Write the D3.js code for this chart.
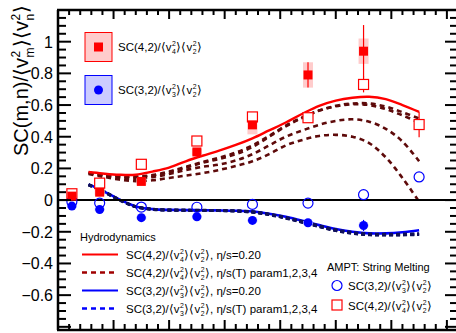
<!DOCTYPE html>
<html><head><meta charset="utf-8">
<script src="https://cdn.jsdelivr.net/npm/d3@7"></script>
<style>html,body{margin:0;padding:0;background:#fff;}svg{display:block;font-family:"Liberation Sans",Arial,Helvetica,sans-serif;}</style>
</head><body>
<svg id="c" width="456" height="333"></svg>
<script>
// ---------------- data ----------------
const cent = [2.5, 7.5, 15, 25, 35, 45, 55, 65];
const alice42 = [0.025, 0.05, 0.118, 0.304, 0.475, 0.79, 0.94];
const alice42Stat = [0.01, 0.01, 0.01, 0.015, 0.02, 0.08, 0.165];
const alice42Sys = [0.02, 0.02, 0.02, 0.02, 0.06, 0.08, 0.08];
const alice32 = [-0.038, -0.059, -0.111, -0.105, -0.128, -0.143, -0.16];
const alice32Stat = [0.005, 0.005, 0.006, 0.006, 0.008, 0.012, 0.035];
const ampt42 = [0.04, 0.107, 0.226, 0.373, 0.525, 0.52, 0.73, 0.477];
const ampt42Err = [0.01, 0.01, 0.01, 0.01, 0.015, 0.02, 0.05, 0.08];
const ampt32 = [-0.01, -0.019, -0.044, -0.045, -0.027, -0.019, 0.034, 0.146];

const hydroCent = [5.5, 8, 11, 14, 17, 20, 23, 26, 29, 32, 35, 38, 41, 44, 47, 50, 53, 56, 59, 62, 65];
const hydro42Eta020 = [0.177, 0.168, 0.160, 0.160, 0.180, 0.205, 0.245, 0.280, 0.312, 0.348, 0.39, 0.44, 0.49, 0.545, 0.595, 0.628, 0.646, 0.652, 0.637, 0.60, 0.557];
const hydro42Param1 = [0.172, 0.160, 0.150, 0.145, 0.155, 0.175, 0.205, 0.235, 0.260, 0.290, 0.335, 0.40, 0.465, 0.52, 0.565, 0.595, 0.61, 0.61, 0.59, 0.555, 0.515];
const hydro42Param2 = [0.170, 0.155, 0.140, 0.135, 0.145, 0.165, 0.190, 0.210, 0.225, 0.250, 0.290, 0.345, 0.40, 0.44, 0.475, 0.50, 0.51, 0.495, 0.45, 0.37, 0.245];
const hydro42Param3 = [0.165, 0.148, 0.130, 0.120, 0.125, 0.140, 0.155, 0.170, 0.190, 0.215, 0.245, 0.29, 0.345, 0.38, 0.405, 0.412, 0.40, 0.36, 0.27, 0.14, -0.01];
const hydro42Param4 = [0.174, 0.162, 0.152, 0.148, 0.158, 0.180, 0.210, 0.240, 0.268, 0.300, 0.345, 0.405, 0.47, 0.522, 0.565, 0.592, 0.605, 0.60, 0.575, 0.535, 0.49];
const hydro32Eta020 = [0.099, 0.060, 0.005, -0.040, -0.057, -0.062, -0.063, -0.064, -0.065, -0.067, -0.072, -0.086, -0.105, -0.13, -0.158, -0.183, -0.2, -0.21, -0.21, -0.203, -0.19];
const hydro32Param1 = [0.097, 0.058, 0.003, -0.042, -0.058, -0.063, -0.064, -0.065, -0.066, -0.068, -0.075, -0.09, -0.112, -0.138, -0.165, -0.19, -0.207, -0.216, -0.218, -0.217, -0.215];
const hydro32Param2 = [0.095, 0.056, 0.001, -0.043, -0.059, -0.064, -0.065, -0.066, -0.067, -0.070, -0.077, -0.092, -0.115, -0.141, -0.168, -0.193, -0.21, -0.219, -0.221, -0.22, -0.218];
const hydro32Param3 = [0.098, 0.059, 0.004, -0.041, -0.057, -0.062, -0.063, -0.064, -0.065, -0.067, -0.073, -0.088, -0.109, -0.135, -0.162, -0.187, -0.204, -0.213, -0.215, -0.214, -0.212];
const hydro32Param4 = [0.096, 0.057, 0.002, -0.042, -0.058, -0.063, -0.064, -0.065, -0.066, -0.069, -0.076, -0.091, -0.113, -0.14, -0.167, -0.192, -0.209, -0.218, -0.22, -0.219, -0.217];

const yTickLabels = ["\u22120.6", "\u22120.4", "\u22120.2", "0", "0.2", "0.4", "0.6", "0.8", "1"];
const yTickValues = [-0.6, -0.4, -0.2, 0, 0.2, 0.4, 0.6, 0.8, 1.0];

// ---------------- setup ----------------
const svg = d3.select("#c");
const x = d3.scaleLinear().domain([0, 72]).range([58, 458]);
const y = d3.scaleLinear().domain([-0.82, 1.2]).range([330, 10]);
const RED = "#ff0000", BLUE = "#0000ff";
const DRED = "#5e0a0a", DBLUE = "#10105a";

// rich text helper: parts are strings or {sup, sub}
function rich(g, x0, y0, parts, fs, color) {
  let cx = x0;
  parts.forEach(p => {
    if (typeof p === "string") {
      const t = g.append("text").attr("x", cx).attr("y", y0).attr("font-size", fs).attr("fill", color).text(p);
      cx += t.node().getComputedTextLength();
    } else {
      const sfs = fs * 0.6;
      const a = g.append("text").attr("x", cx + 0.5).attr("y", y0 - fs * 0.42).attr("font-size", sfs).attr("fill", color).text(p.sup);
      const b = g.append("text").attr("x", cx + 0.5).attr("y", y0 + fs * 0.28).attr("font-size", sfs).attr("fill", color).text(p.sub);
      cx += Math.max(a.node().getComputedTextLength(), b.node().getComputedTextLength()) + 1;
    }
  });
  return cx - x0;
}
const lab42 = ["SC(4,2)/\u27E8v", {sup: "2", sub: "4"}, "\u27E9\u27E8v", {sup: "2", sub: "2"}, "\u27E9"];
const lab32 = ["SC(3,2)/\u27E8v", {sup: "2", sub: "3"}, "\u27E9\u27E8v", {sup: "2", sub: "2"}, "\u27E9"];

// ---------------- hydro curves ----------------
const line = d3.line().x(d => x(d[0])).y(d => y(d[1])).curve(d3.curveCatmullRom.alpha(0.5));
const pts = arr => hydroCent.map((c, i) => [c, arr[i]]);
const gC = svg.append("g");
[hydro42Param3, hydro42Param2, hydro42Param4, hydro42Param1].forEach(a => {
  gC.append("path").attr("d", line(pts(a))).attr("fill", "none").attr("stroke", DRED)
    .attr("stroke-width", 2.6).attr("stroke-dasharray", "5,4");
});
gC.append("path").attr("d", line(pts(hydro42Eta020))).attr("fill", "none").attr("stroke", RED).attr("stroke-width", 2.4);
gC.append("path").attr("d", line(pts(hydro32Eta020))).attr("fill", "none").attr("stroke", BLUE).attr("stroke-width", 2.6);
[hydro32Param1, hydro32Param2, hydro32Param3, hydro32Param4].forEach(a => {
  gC.append("path").attr("d", line(pts(a))).attr("fill", "none").attr("stroke", DBLUE)
    .attr("stroke-width", 2.8).attr("stroke-dasharray", "4,3");
});

// zero line
svg.append("line").attr("x1", x(0)).attr("x2", 458).attr("y1", y(0)).attr("y2", y(0)).attr("stroke", "#000").attr("stroke-width", 2);

// ---------------- data points ----------------
const gD = svg.append("g");
alice42.forEach((v, i) => {
  gD.append("rect").attr("x", x(cent[i]) - 5).attr("width", 10)
    .attr("y", y(v + alice42Sys[i])).attr("height", y(v - alice42Sys[i]) - y(v + alice42Sys[i]))
    .attr("fill", "#ffcccc");
});
alice32.forEach((v, i) => {
  gD.append("rect").attr("x", x(cent[i]) - 5).attr("width", 10)
    .attr("y", y(v + 0.01)).attr("height", y(v - 0.01) - y(v + 0.01))
    .attr("fill", "#d6d6ff");
});
ampt42.forEach((v, i) => {
  gD.append("line").attr("x1", x(cent[i])).attr("x2", x(cent[i]))
    .attr("y1", y(v + ampt42Err[i])).attr("y2", y(v - ampt42Err[i])).attr("stroke", RED).attr("stroke-width", 1.2);
});
alice42.forEach((v, i) => {
  gD.append("line").attr("x1", x(cent[i])).attr("x2", x(cent[i]))
    .attr("y1", y(v + alice42Stat[i])).attr("y2", y(v - alice42Stat[i])).attr("stroke", RED).attr("stroke-width", 1.2);
});
alice32.forEach((v, i) => {
  gD.append("line").attr("x1", x(cent[i])).attr("x2", x(cent[i]))
    .attr("y1", y(v + alice32Stat[i])).attr("y2", y(v - alice32Stat[i])).attr("stroke", BLUE).attr("stroke-width", 1.2);
});
ampt42.forEach((v, i) => {
  gD.append("rect").attr("x", x(cent[i]) - 5).attr("y", y(v) - 5).attr("width", 10).attr("height", 10)
    .attr("fill", "#fff").attr("stroke", RED).attr("stroke-width", 1.2);
});
ampt32.forEach((v, i) => {
  gD.append("circle").attr("cx", x(cent[i])).attr("cy", y(v)).attr("r", 5)
    .attr("fill", "none").attr("stroke", BLUE).attr("stroke-width", 1.2);
});
alice42.forEach((v, i) => {
  gD.append("rect").attr("x", x(cent[i]) - 4.5).attr("y", y(v) - 4.5).attr("width", 9).attr("height", 9).attr("fill", RED);
});
alice32.forEach((v, i) => {
  gD.append("circle").attr("cx", x(cent[i])).attr("cy", y(v)).attr("r", 4.5).attr("fill", BLUE);
});

// ---------------- axes ----------------
const gA = svg.append("g").attr("stroke", "#000");
const yMinor = d3.range(-16, 25).map(k => k * 0.05).filter(v => v >= -0.82 && v <= 1.2);
yMinor.forEach(v => {
  const major = Math.abs(Math.round(v / 0.05) % 4) === 0;
  const L = major ? 13 : 8;
  gA.append("line").attr("x1", x(0)).attr("x2", x(0) + L).attr("y1", y(v)).attr("y2", y(v)).attr("stroke-width", 2);
  gA.append("line").attr("x1", 458).attr("x2", 458 - L).attr("y1", y(v)).attr("y2", y(v)).attr("stroke-width", 2);
});
d3.range(0, 73, 2).forEach(c => {
  const major = c % 10 === 0;
  gA.append("line").attr("x1", x(c)).attr("x2", x(c)).attr("y1", y(1.2)).attr("y2", y(1.2) + (major ? 9 : 5)).attr("stroke-width", 2);
  gA.append("line").attr("x1", x(c)).attr("x2", x(c)).attr("y1", y(-0.82)).attr("y2", y(-0.82) - (major ? 10 : 6)).attr("stroke-width", 2);
});
gA.append("line").attr("x1", x(0)).attr("x2", x(0)).attr("y1", y(1.2)).attr("y2", y(-0.82)).attr("stroke-width", 2.5);
gA.append("line").attr("x1", x(0) - 1).attr("x2", 458).attr("y1", y(1.2)).attr("y2", y(1.2)).attr("stroke-width", 2.5);
gA.append("line").attr("x1", x(0) - 1).attr("x2", 458).attr("y1", y(-0.82)).attr("y2", y(-0.82)).attr("stroke-width", 2.5);

yTickValues.forEach((v, i) => {
  svg.append("text").attr("x", 53).attr("y", y(v) + 6).attr("text-anchor", "end")
    .attr("font-size", 16).attr("fill", "#000").text(yTickLabels[i]);
});

// y title
const gT = svg.append("g").attr("transform", "translate(28,156) rotate(-90)");
rich(gT, 0, 0, ["SC(m,n)/\u27E8v", {sup: "2", sub: "m"}, "\u27E9\u27E8v", {sup: "2", sub: "n"}, "\u27E9"], 20, "#000");
// fragment of a neighbouring label at the bottom edge (cut off in the reference too)
svg.append("g").attr("transform", "translate(24,340) rotate(-90)")
  .append("text").attr("font-size", 20).attr("fill", "#000").text("\u27E9");

// ---------------- legends ----------------
const gL = svg.append("g");
gL.append("rect").attr("x", 85).attr("y", 32.5).attr("width", 27).attr("height", 29).attr("fill", "#ffcccc").attr("stroke", RED).attr("stroke-width", 1);
gL.append("rect").attr("x", 98.5 - 4.5).attr("y", 47 - 4.5).attr("width", 9).attr("height", 9).attr("fill", RED);
rich(gL, 118, 51, lab42, 11.5, "#000");
gL.append("rect").attr("x", 85).attr("y", 75.5).attr("width", 27).attr("height", 29).attr("fill", "#ccccff").attr("stroke", BLUE).attr("stroke-width", 1);
gL.append("circle").attr("cx", 98.5).attr("cy", 90).attr("r", 4.5).attr("fill", BLUE);
rich(gL, 118, 94, lab32, 11.5, "#000");

gL.append("text").attr("x", 80).attr("y", 241).attr("font-size", 11).attr("fill", "#000").text("Hydrodynamics");
const hyd = [
  {yy: 254.5, col: RED, dash: null, w: 2.2, lab: lab42.concat([", \u03B7/s=0.20"])},
  {yy: 272.5, col: "#a00000", dash: "5,4", w: 2.6, lab: lab42.concat([", \u03B7/s(T) param1,2,3,4"])},
  {yy: 290.5, col: BLUE, dash: null, w: 2.2, lab: lab32.concat([", \u03B7/s=0.20"])},
  {yy: 308.5, col: BLUE, dash: "5,4", w: 2.6, lab: lab32.concat([", \u03B7/s(T) param1,2,3,4"])}
];
hyd.forEach(h => {
  const l = gL.append("line").attr("x1", 82).attr("x2", 118).attr("y1", h.yy).attr("y2", h.yy).attr("stroke", h.col).attr("stroke-width", h.w);
  if (h.dash) l.attr("stroke-dasharray", h.dash);
  rich(gL, 126, h.yy + 4.5, h.lab, 11.5, "#000");
});

gL.append("text").attr("x", 327).attr("y", 270.5).attr("font-size", 11).attr("fill", "#000").text("AMPT: String Melting");
gL.append("circle").attr("cx", 337).attr("cy", 285.5).attr("r", 5).attr("fill", "none").attr("stroke", BLUE).attr("stroke-width", 1.2);
rich(gL, 348, 290, lab32, 11.5, "#000");
gL.append("rect").attr("x", 332).attr("y", 300).attr("width", 10).attr("height", 10).attr("fill", "none").attr("stroke", RED).attr("stroke-width", 1.2);
rich(gL, 348, 310, lab42, 11.5, "#000");
</script>
</body></html>
